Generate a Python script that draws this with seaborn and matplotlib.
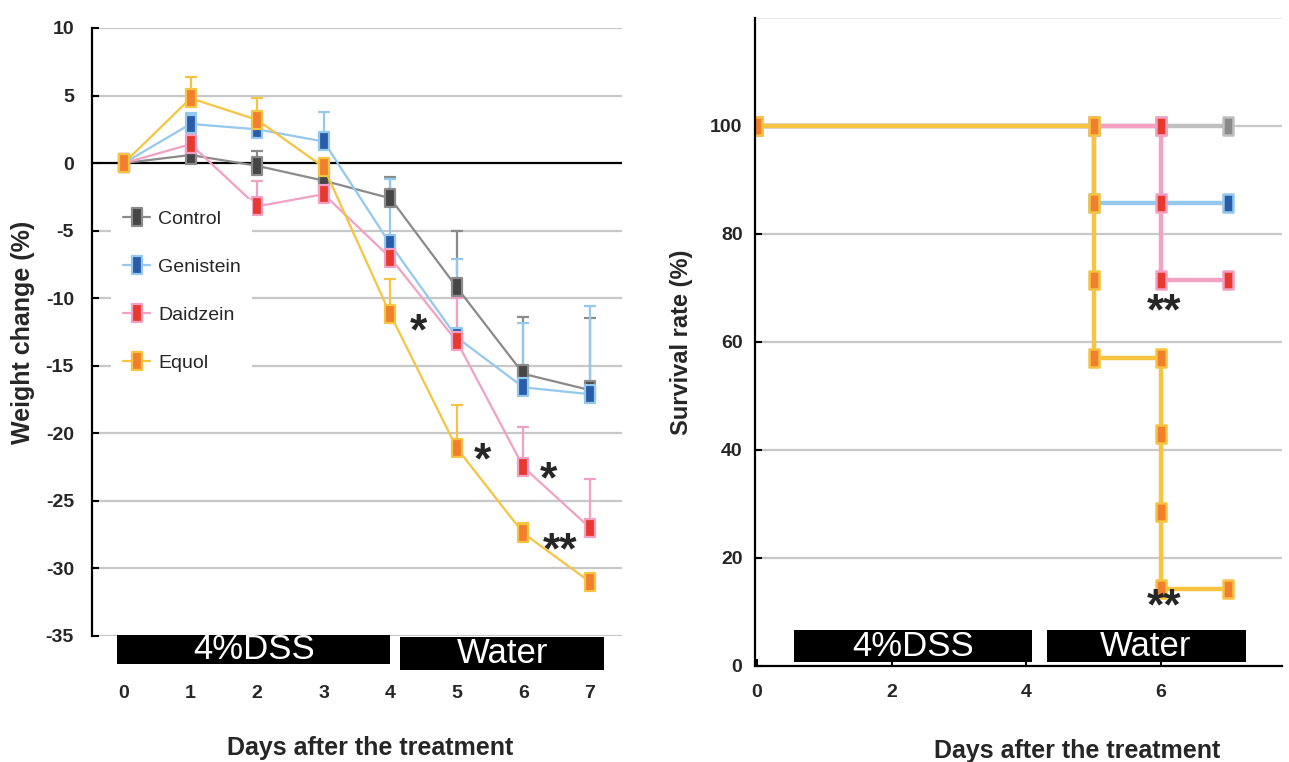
import numpy as np
import pandas as pd
import matplotlib
matplotlib.use("Agg")
import matplotlib.pyplot as plt
import seaborn as sns
from matplotlib.patches import Rectangle
from matplotlib.path import Path

# ---------------- data ----------------
days = [0, 1, 2, 3, 4, 5, 6, 7]
groups = ["Control", "Genistein", "Daidzein", "Equol"]

control_mean = [0, 0.6, -0.2, -1.3, -2.6, -9.2, -15.6, -16.8]
control_err = [0, 0.5, 1.1, 0.5, 1.6, 4.2, 4.2, 5.3]
genistein_mean = [0, 2.9, 2.5, 1.6, -6.0, -12.9, -16.6, -17.1]
genistein_err = [0, 0.8, 0.5, 2.2, 4.8, 5.8, 4.8, 6.5]
daidzein_mean = [0, 1.4, -3.2, -2.3, -7.0, -13.2, -22.5, -27.0]
daidzein_err = [0, 1.2, 1.9, 0.5, 1.0, 3.2, 3.0, 3.6]
equol_mean = [0, 4.8, 3.2, -0.3, -11.2, -21.1, -27.4, -31.0]
equol_err = [0, 1.6, 1.6, 0.3, 2.6, 3.2, 0.8, 0.0]

surv_control_days = [0, 5, 6, 7]
surv_control = [100, 100, 100, 100]
surv_genistein_days = [0, 5, 5, 7]
surv_genistein = [100, 100, 85.7, 85.7]
surv_daidzein_days = [0, 5, 6, 6, 6, 7]
surv_daidzein = [100, 100, 100, 85.7, 71.4, 71.4]
surv_equol_days = [0, 5, 5, 5, 5, 6, 6, 6, 6, 7]
surv_equol = [100, 100, 85.7, 71.4, 57.1, 57.1, 42.9, 28.6, 14.3, 14.3]

weight_yticks = [10, 5, 0, -5, -10, -15, -20, -25, -30, -35]
surv_yticks = [0, 20, 40, 60, 80, 100]
surv_xticks = [0, 2, 4, 6]

# significance marks: (x, y, text)
weight_sig = [(4.42, -11.8, "*"), (5.39, -21.3, "*"), (6.38, -22.7, "*"), (6.55, -28.0, "**")]
surv_sig = [(6.05, 67.3, "**"), (6.05, 12.8, "**")]

# ---------------- styles ----------------
line_col = {"Control": "#8a8a8a", "Genistein": "#94c8ec", "Daidzein": "#f2a0c4", "Equol": "#f6c441"}
fill_col = {"Control": "#454545", "Genistein": "#2a5caa", "Daidzein": "#e8392f", "Equol": "#f17f2d"}
edge_col = {"Control": "#8a8a8a", "Genistein": "#94c8ec", "Daidzein": "#f2a0c4", "Equol": "#f6c441"}
surv_line = dict(line_col, Control="#c0c0c0")
surv_fill = dict(fill_col, Control="#8a8a8a")
surv_edge = dict(edge_col, Control="#c0c0c0")

rect = Path([(-0.6, -1), (0.6, -1), (0.6, 1), (-0.6, 1), (-0.6, -1)],
            [Path.MOVETO, Path.LINETO, Path.LINETO, Path.LINETO, Path.CLOSEPOLY])

sns.set_theme(style="white")
plt.rcParams["font.family"] = ["Liberation Sans", "DejaVu Sans"]

fig = plt.figure(figsize=(12.89, 7.62), dpi=100)
ax1 = fig.add_axes([92 / 1289, 1 - 636 / 762, 530 / 1289, 608 / 762])
ax2 = fig.add_axes([755 / 1289, 1 - 666 / 762, 527 / 1289, 648 / 762])

grid_c = "#c8c8c8"
TICK_FS = 14

# ---------------- left: weight change ----------------
means = [control_mean, genistein_mean, daidzein_mean, equol_mean]
errs = [control_err, genistein_err, daidzein_err, equol_err]
for yv in weight_yticks:
    if yv == 0:
        ax1.axhline(0, color="black", lw=1.6, zorder=1)
    else:
        ax1.axhline(yv, color=grid_c, lw=1.6, zorder=0.5)

for g, m, e in zip(groups, means, errs):
    ax1.errorbar(days, m, yerr=[np.zeros(len(e)), e], fmt="none", ecolor=line_col[g],
                 elinewidth=1.6, capsize=4, capthick=1.6, zorder=1.8)
    sns.lineplot(x=days, y=m, ax=ax1, estimator=None, sort=False, color=line_col[g],
                 linewidth=1.6, marker=rect, markersize=13, markerfacecolor=fill_col[g],
                 markeredgecolor=edge_col[g], markeredgewidth=1.6, label=g, legend=False)

ax1.set_xlim(-0.48, 7.48)
ax1.set_ylim(-35, 10)
ax1.set_yticks(weight_yticks)
ax1.set_yticklabels([str(v) for v in weight_yticks], fontweight="bold", fontsize=TICK_FS)
ax1.set_xticks(days)
ax1.set_xticklabels([str(d) for d in days], fontweight="bold", fontsize=TICK_FS)
ax1.tick_params(axis="x", length=0, pad=35)
ax1.tick_params(axis="y", direction="in", length=5, width=1.5, color="black", pad=13, left=True)
for s in ["top", "right", "bottom"]:
    ax1.spines[s].set_visible(False)
ax1.spines["left"].set_color("black")
ax1.spines["left"].set_linewidth(1.6)
ax1.set_ylabel("Weight change (%)", fontsize=18, fontweight="bold", labelpad=8)
ax1.set_xlabel("Days after the treatment", fontsize=18, fontweight="bold", labelpad=25)
ax1.xaxis.label.set_x(0.525)

h, l = ax1.get_legend_handles_labels()
leg = ax1.legend(h[:4], l[:4], loc="upper left", bbox_to_anchor=(0.018, 0.735), fontsize=14,
                 frameon=True, facecolor="white", edgecolor="none", framealpha=1,
                 labelspacing=1.56, handlelength=1.4, handletextpad=0.4, borderpad=0.6)
leg.set_zorder(3)

for x, y, t in weight_sig:
    ax1.text(x, y - 0.8, t, fontsize=32, fontweight="bold", ha="center", va="center", zorder=5)

ax1.add_patch(Rectangle((-0.1, -37.1), 4.1, 2.2, facecolor="black", edgecolor="none", clip_on=False))
ax1.add_patch(Rectangle((4.15, -37.5), 3.06, 2.4, facecolor="black", edgecolor="none", clip_on=False))
ax1.text(1.95, -36.0, "4%DSS", color="white", fontsize=25, ha="center", va="center", clip_on=False)
ax1.text(5.68, -36.3, "Water", color="white", fontsize=25, ha="center", va="center", clip_on=False)

# ---------------- right: survival ----------------
for yv in [20, 40, 60, 80, 100]:
    ax2.axhline(yv, color=grid_c, lw=1.6, zorder=0.5)
ax2.axhline(120, color="#e6e6e6", lw=1.2, zorder=0.5)

surv = [(surv_control_days, surv_control), (surv_genistein_days, surv_genistein),
        (surv_daidzein_days, surv_daidzein), (surv_equol_days, surv_equol)]
for g, (dx, dy) in zip(groups, surv):
    sns.lineplot(x=dx, y=dy, ax=ax2, estimator=None, sort=False, color=surv_line[g],
                 linewidth=3.2, marker=rect, markersize=13, markerfacecolor=surv_fill[g],
                 markeredgecolor=surv_edge[g], markeredgewidth=1.8, legend=False, zorder=2)

ax2.set_xlim(-0.03, 7.8)
ax2.set_ylim(0, 120)
ax2.set_yticks(surv_yticks)
ax2.set_yticklabels([str(v) for v in surv_yticks], fontweight="bold", fontsize=TICK_FS)
ax2.set_xticks(surv_xticks)
ax2.set_xticklabels([str(v) for v in surv_xticks], fontweight="bold", fontsize=TICK_FS)
ax2.tick_params(axis="x", direction="in", length=5, width=1.5, color="black", pad=13, bottom=True)
ax2.tick_params(axis="y", direction="in", length=5, width=1.5, color="black", pad=9, left=True)
for s in ["top", "right"]:
    ax2.spines[s].set_visible(False)
for s in ["left", "bottom"]:
    ax2.spines[s].set_color("black")
    ax2.spines[s].set_linewidth(1.6)
ax2.set_ylabel("Survival rate (%)", fontsize=17, fontweight="bold", labelpad=12)
ax2.set_xlabel("Days after the treatment", fontsize=18, fontweight="bold", labelpad=27)
ax2.xaxis.label.set_x(0.611)

for x, y, t in surv_sig:
    ax2.text(x, y - 2.0, t, fontsize=32, fontweight="bold", ha="center", va="center", zorder=5)

ax2.add_patch(Rectangle((0.55, 0.7), 3.54, 5.9, facecolor="black", edgecolor="none", zorder=3))
ax2.add_patch(Rectangle((4.31, 0.7), 2.95, 5.9, facecolor="black", edgecolor="none", zorder=3))
ax2.text(2.32, 3.65, "4%DSS", color="white", fontsize=25, ha="center", va="center", zorder=4)
ax2.text(5.78, 3.65, "Water", color="white", fontsize=25, ha="center", va="center", zorder=4)

fig.savefig("out.png", dpi=100)
